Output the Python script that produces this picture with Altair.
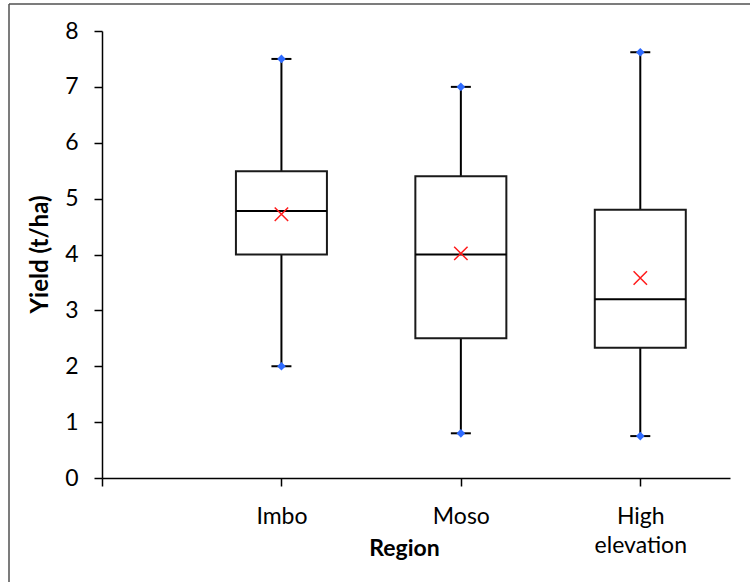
import altair as alt
import pandas as pd

# ---- data ----
regions = ["Imbo", "Moso", "High elevation"]
positions = [1, 2, 3]
y_min = [2.0, 0.8, 0.75]
q1 = [4.0, 2.5, 2.33]
median = [4.78, 4.0, 3.2]
q3 = [5.49, 5.4, 4.8]
y_max = [7.5, 7.0, 7.62]
mean = [4.72, 4.02, 3.58]

axis_labels = ["", "Imbo", "Moso", ["High", "elevation"]]

df = pd.DataFrame({
    "region": regions, "pos": positions, "min": y_min, "q1": q1,
    "median": median, "q3": q3, "max": y_max, "mean": mean,
})

FONT = "Lato"

label_js = "[" + ",".join(
    ("[" + ",".join("'%s'" % s for s in l) + "]") if isinstance(l, list) else "'%s'" % l
    for l in axis_labels) + "]"

x_scale = alt.Scale(domain=[0, 3.5], nice=False, zero=False, padding=0)
y_scale = alt.Scale(domain=[0, 8], nice=False)

x_axis = alt.Axis(
    values=[0, 1, 2, 3], labelExpr=label_js + "[datum.value]",
    title="Region", titleFont=FONT, titleFontSize=23, titleFontWeight="bold",
    titleColor="black", titleX=302, titleY=70, titleBaseline="middle", titleAlign="center",
    labelFont=FONT, labelFontSize=23, labelColor="black", labelPadding=19,
    labelBaseline="top", labelLineHeight=29, labelAlign="center",
    tickSize=8, tickColor="black", tickWidth=1.5, domainColor="black", domainWidth=1.5,
    grid=False, labelFlush=False, labelOverlap=False,
)
y_axis = alt.Axis(
    values=list(range(0, 9)), format="d",
    title="Yield (t/ha)", titleFont=FONT, titleFontSize=24, titleFontWeight="bold",
    titleColor="black", titleX=-62, titleY=223, titleAngle=-90, titleAlign="center",
    titleBaseline="middle",
    labelFont=FONT, labelFontSize=23, labelColor="black", labelPadding=16,
    tickSize=8, tickColor="black", tickWidth=1.5, domainColor="black", domainWidth=1.5,
    grid=False,
)

base = alt.Chart(df)
X = alt.X("pos:Q", scale=x_scale, axis=x_axis)

whisker_low = base.mark_rule(color="black", strokeWidth=2).encode(
    x=X, y=alt.Y("min:Q", scale=y_scale, axis=y_axis), y2="q1:Q")
whisker_high = base.mark_rule(color="black", strokeWidth=2).encode(
    x="pos:Q", y="q3:Q", y2="max:Q")
box = base.mark_bar(size=91, fill="white", stroke="#1a1a1a", strokeWidth=2).encode(
    x="pos:Q", y="q1:Q", y2="q3:Q")
med = base.mark_tick(orient="horizontal", size=91, thickness=2, color="black", opacity=1).encode(
    x="pos:Q", y="median:Q")
cap_low = base.mark_tick(orient="horizontal", size=20, thickness=2, color="black", opacity=1).encode(
    x="pos:Q", y="min:Q")
cap_high = base.mark_tick(orient="horizontal", size=20, thickness=2, color="black", opacity=1).encode(
    x="pos:Q", y="max:Q")
pt_low = base.mark_point(shape="diamond", filled=True, size=75, color="#2f6bff", opacity=1).encode(
    x="pos:Q", y="min:Q")
pt_high = base.mark_point(shape="diamond", filled=True, size=75, color="#2f6bff", opacity=1).encode(
    x="pos:Q", y="max:Q")
mean_pt = base.mark_point(shape="M-1,-1L1,1M-1,1L1,-1", filled=False, size=180,
                          color="#ff1a1a", strokeWidth=1.5, opacity=1).encode(
    x="pos:Q", y="mean:Q")

one = pd.DataFrame({"a": [0]})
frame_top = alt.Chart(one).mark_rule(color="#505050", strokeWidth=1.5).encode(
    x=alt.value(-93), x2=alt.value(648), y=alt.value(-27))
frame_left = alt.Chart(one).mark_rule(color="#505050", strokeWidth=1.5).encode(
    x=alt.value(-93), y=alt.value(-27), y2=alt.value(551))

chart = alt.layer(
    frame_top, frame_left, whisker_low, whisker_high, box, med,
    cap_low, cap_high, pt_low, pt_high, mean_pt
).properties(
    width=628, height=447,
    padding={"left": 102, "top": 31, "right": 20, "bottom": 104},
    autosize=alt.AutoSizeParams(type="none"),
    background="white",
).configure_view(stroke=None)

chart.save("out.html", embed_options={"renderer": "svg", "actions": False})
